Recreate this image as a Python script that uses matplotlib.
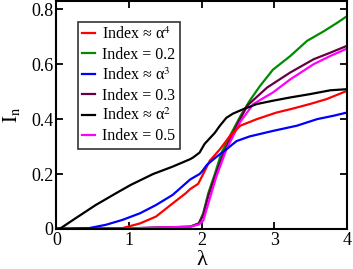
import matplotlib
matplotlib.use("Agg")
import matplotlib.pyplot as plt

plt.rcParams['font.family'] = ['Liberation Serif', 'DejaVu Serif']
plt.rcParams['mathtext.fontset'] = 'stix'

# curves (lambda, I_n)
black_x = [0.0, 0.06, 0.27, 0.54, 0.82, 1.02, 1.33, 1.60, 1.84, 1.88, 1.97, 2.04, 2.11, 2.18,
           2.25, 2.34, 2.43, 2.57, 2.76, 2.98, 3.22, 3.49, 3.77, 4.0]
black_y = [0.0, 0.003, 0.04, 0.087, 0.13, 0.16, 0.20, 0.227, 0.254, 0.26, 0.278, 0.31, 0.33, 0.35,
           0.376, 0.405, 0.42, 0.436, 0.455, 0.467, 0.479, 0.491, 0.505, 0.509]

blue_x = [0.0, 0.45, 0.68, 0.91, 1.15, 1.37, 1.60, 1.84, 1.97, 2.0, 2.07, 2.21, 2.34, 2.48,
          2.66, 2.98, 3.31, 3.59, 3.81, 4.0]
blue_y = [0.0, 0.003, 0.015, 0.033, 0.057, 0.087, 0.124, 0.18, 0.20, 0.208, 0.233, 0.264, 0.29, 0.32,
          0.337, 0.357, 0.376, 0.40, 0.412, 0.424]

red_x = [0.0, 0.91, 1.15, 1.37, 1.60, 1.78, 1.84, 1.95, 2.02, 2.11, 2.25, 2.39, 2.53, 2.76,
         3.03, 3.22, 3.49, 3.72, 4.0]
red_y = [0.0, 0.003, 0.02, 0.045, 0.093, 0.13, 0.145, 0.164, 0.20, 0.248, 0.29, 0.339, 0.376, 0.40,
         0.424, 0.436, 0.455, 0.473, 0.503]

green_x = [0.0, 1.0, 1.84, 1.96, 2.02, 2.09, 2.18, 2.27, 2.39, 2.53, 2.66, 2.80, 2.98, 3.22,
           3.45, 3.68, 3.86, 4.0]
green_y = [0.0, 0.002, 0.008, 0.02, 0.057, 0.13, 0.2, 0.276, 0.34, 0.41, 0.467, 0.52, 0.58, 0.63,
           0.685, 0.72, 0.75, 0.775]

purple_x = [0.0, 1.0, 1.84, 1.96, 2.02, 2.09, 2.18, 2.30, 2.48, 2.63, 2.90, 3.22, 3.54, 3.77, 4.0]
purple_y = [0.0, 0.002, 0.008, 0.02, 0.05, 0.12, 0.19, 0.276, 0.376, 0.45, 0.515, 0.57, 0.618, 0.642, 0.667]

magenta_x = [0.0, 1.0, 1.84, 1.96, 2.02, 2.11, 2.20, 2.34, 2.53, 2.71, 2.98, 3.22, 3.54, 3.77, 4.0]
magenta_y = [0.0, 0.002, 0.008, 0.016, 0.03, 0.11, 0.19, 0.29, 0.39, 0.455, 0.497, 0.545, 0.60, 0.63, 0.657]

series = [
    (red_x, red_y, '#ff0000', 'Index ≈ α$^{4}$'),
    (green_x, green_y, '#008c00', 'Index = 0.2'),
    (blue_x, blue_y, '#0000ff', 'Index ≈ α$^{3}$'),
    (purple_x, purple_y, '#660044', 'Index = 0.3'),
    (black_x, black_y, '#000000', 'Index ≈ α$^{2}$'),
    (magenta_x, magenta_y, '#ff00ff', 'Index = 0.5'),
]

fig = plt.figure(figsize=(3.53, 2.69), dpi=100)
ax = fig.add_axes([0.16, 0.149, 0.823, 0.847])

# draw flat ones first so coloured curves overlay like the reference
order = [1, 3, 5, 0, 2, 4]
lines = {}
for i in order:
    x, y, c, lab = series[i]
    lines[i], = ax.plot(x, y, color=c, lw=1.6, label=lab)

handles = [lines[i] for i in range(6)]
leg = ax.legend(handles=handles, loc='upper left', bbox_to_anchor=(0.073, 0.91),
                fontsize=11.5, frameon=True, fancybox=False, handlelength=0.8,
                handletextpad=0.4, borderpad=0.3, labelspacing=0.25, borderaxespad=0)
leg.get_frame().set_edgecolor('black')
leg.get_frame().set_linewidth(1.2)

ax.set_xlim(0, 4)
ax.set_ylim(0, 0.83)
ax.set_xticks([0, 1, 2, 3, 4])
ax.set_yticks([0, 0.2, 0.4, 0.6, 0.8])
ax.set_yticklabels(['0', '0.2', '0.4', '0.6', '0.8'])
ax.tick_params(direction='in', top=True, right=True, length=5, width=1.3,
               labelsize=13, pad=2)
for s in ax.spines.values():
    s.set_linewidth(1.5)

ax.set_xlabel('λ', fontsize=16, labelpad=2)
ax.set_ylabel(r'$\mathrm{I_n}$', fontsize=15, labelpad=7)

fig.savefig('out.png', dpi=100)
